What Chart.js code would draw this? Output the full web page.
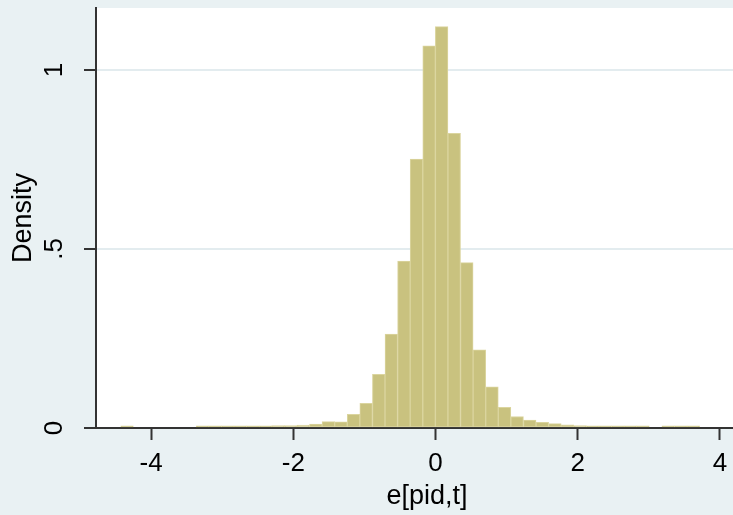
<!DOCTYPE html>
<html>
<head>
<meta charset="utf-8">
<script src="https://cdn.jsdelivr.net/npm/chart.js@4.4.1/dist/chart.umd.min.js"></script>
<style>
    html, body { margin: 0; padding: 0; overflow: hidden; background: #e9f1f3; }
    canvas { display: block; }
</style>
</head>
<body>
<canvas id="hist" width="760" height="515"></canvas>
<script>
// histogram bins: first bin starts at the data minimum, 46 equal bins
const binStart = -4.427;
const binWidth = 0.177;
const density = [
    0.006, 0, 0, 0, 0, 0,
    0.006, 0.006, 0.006, 0.006, 0.006, 0.006, 0.007, 0.007, 0.008,
    0.011, 0.018, 0.017, 0.038, 0.069, 0.150, 0.262, 0.466, 0.751,
    1.067, 1.121, 0.823, 0.462, 0.218, 0.115, 0.058, 0.032, 0.022,
    0.016, 0.012, 0.009, 0.007, 0.006, 0.006, 0.006, 0.006, 0.006,
    0, 0.006, 0.006, 0.006
];
const xTicks = [-4, -2, 0, 2, 4];
const yTicks = [0, 0.5, 1];
const yTickLabels = ['0', '.5', '1'];
const xTitle = 'e[pid,t]';
const yTitle = 'Density';

const tickFont = { family: '"Liberation Sans", Arial, sans-serif', size: 26 };
const titleFont = { family: '"Liberation Sans", Arial, sans-serif', size: 27 };

const plotBackground = {
    id: 'plotBackground',
    beforeDraw(chart) {
        const {ctx, chartArea} = chart;
        ctx.save();
        ctx.fillStyle = '#e9f1f3';
        ctx.fillRect(0, 0, chart.width, chart.height);
        ctx.fillStyle = '#ffffff';
        ctx.fillRect(chartArea.left, chartArea.top, chartArea.right - chartArea.left, chartArea.bottom - chartArea.top);
        ctx.restore();
    }
};

new Chart(document.getElementById('hist').getContext('2d'), {
    type: 'bar',
    data: {
        datasets: [{
            label: 'Density',
            data: density.map((d, i) => ({ x: binStart + binWidth * (i + 0.5), y: d })),
            backgroundColor: '#c9c27f',
            borderColor: '#dbd59f',
            borderWidth: 1,
            borderSkipped: false,
            barPercentage: 1,
            categoryPercentage: 1
        }]
    },
    options: {
        responsive: false,
        animation: false,
        layout: { padding: { top: 8, right: 2, left: 0, bottom: 0 } },
        plugins: {
            legend: { display: false },
            tooltip: { enabled: false }
        },
        scales: {
            x: {
                type: 'linear',
                offset: false,
                min: -4.775,
                max: 4.536,
                afterBuildTicks: scale => { scale.ticks = xTicks.map(v => ({ value: v })); },
                afterFit: scale => {
                    scale.height = 87;
                    scale.paddingLeft = 0;
                    scale.paddingRight = 0;
                },
                ticks: { color: '#000', font: tickFont, padding: 8, maxRotation: 0, callback: v => String(v) },
                grid: { offset: false, drawOnChartArea: false, tickLength: 12, tickColor: '#333', tickWidth: 2, color: '#333' },
                border: { display: true, color: '#333', width: 2 },
                title: { display: true, text: xTitle, color: '#000', font: titleFont, padding: { top: 0, bottom: 2 } }
            },
            y: {
                min: 0,
                max: 1.173,
                afterBuildTicks: scale => { scale.ticks = yTicks.map(v => ({ value: v })); },
                afterFit: scale => {
                    scale.width = 96;
                    scale.paddingTop = 0;
                    scale.paddingBottom = 0;
                },
                ticks: {
                    color: '#000', font: tickFont, padding: 18,
                    minRotation: 90, maxRotation: 90, crossAlign: 'center',
                    callback: v => yTickLabels[yTicks.indexOf(v)]
                },
                grid: { tickLength: 12, tickColor: '#333', tickWidth: 2, color: '#e3ecef', lineWidth: 2 },
                border: { display: true, color: '#333', width: 2 },
                title: { display: true, text: yTitle, color: '#000', font: titleFont, padding: { top: 7, bottom: 0 } }
            }
        }
    },
    plugins: [plotBackground]
});
</script>
</body>
</html>
